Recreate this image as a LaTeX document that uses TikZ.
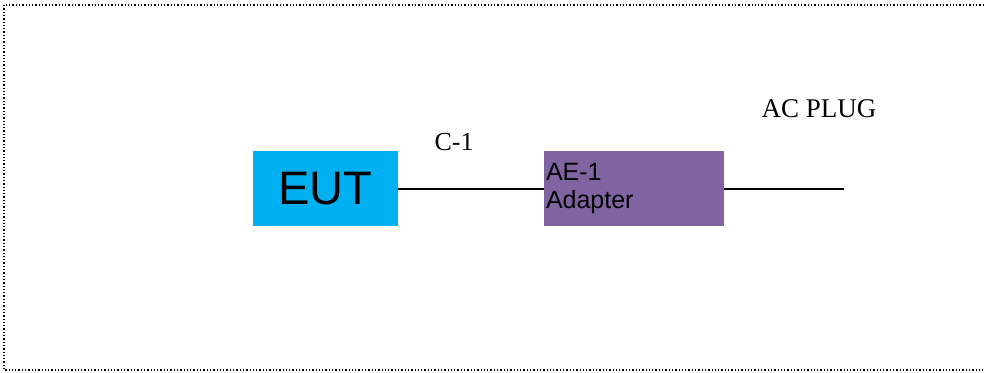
\documentclass[tikz,border=0pt]{standalone}
\usepackage{fontspec}
\setmainfont{Liberation Serif}
\newfontfamily\boxfont{Liberation Sans}
\usepackage{tikz}
\usetikzlibrary{shapes,arrows}
\usetikzlibrary{positioning}
\definecolor{eutblue}{HTML}{00B0F0}
\definecolor{aepurple}{HTML}{8064A2}
\tikzstyle{block} = [rectangle, inner sep=0pt, minimum height=75pt]
\tikzstyle{line} = [draw, line width=1.3pt]
\tikzstyle{tag} = [inner sep=0pt, font=\fontsize{26}{30}\selectfont]

\begin{document}
\begin{tikzpicture}[x=1pt, y=-1pt]
\useasboundingbox (0,0) rectangle (984,372);
% frame
\begin{scope}
\clip (0,0) rectangle (984,372);
\draw [line width=1.3pt, dash pattern=on 1.3pt off 2pt] (4,5) rectangle (1010,370);
\end{scope}
% Place nodes
\node [block, fill=eutblue, minimum width=145pt, font=\boxfont\fontsize{47}{50}\selectfont] (i1) at (325.5,188.5) {EUT};
\node [block, fill=aepurple, minimum width=180pt, text width=176pt, align=left, inner sep=2pt, font=\boxfont\fontsize{25}{29}\selectfont] (i2) at (634,188.5) {\raisebox{-2pt}{AE-1}\\[-1pt]\raisebox{-2pt}{Adapter}};
\coordinate (i3) at (844,189);
\node [tag] (c1) at (454,142) {C-1};
\node [tag, font=\fontsize{27}{30}\selectfont] (plug) at (819,109) {AC PLUG};
% Draw edges
\path [line] (i1.east |- i3) -- (i2.west |- i3);
\path [line] (i2.east |- i3) -- (i3);
\end{tikzpicture}
\end{document}
